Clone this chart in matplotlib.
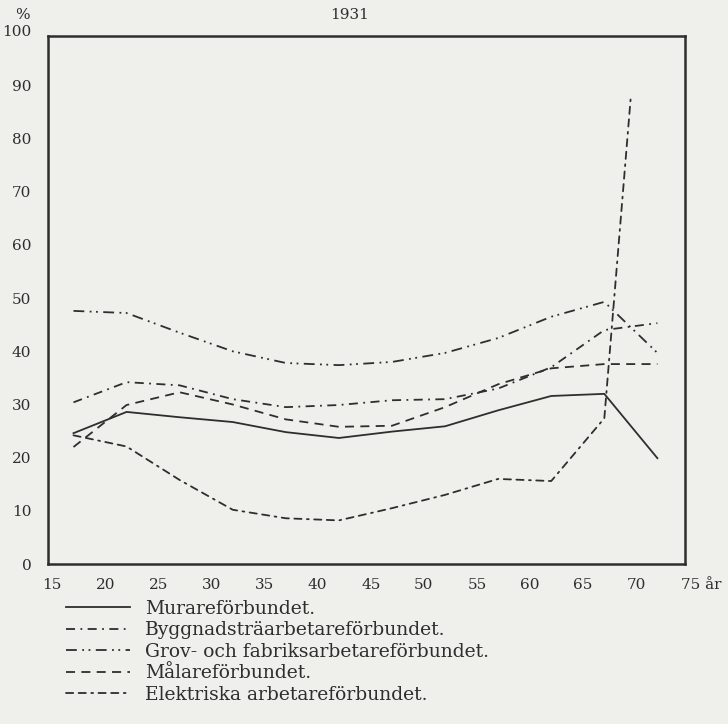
import numpy as np
import matplotlib
matplotlib.use('Agg')
import matplotlib.pyplot as plt

plt.rcParams['font.family'] = ['DejaVu Serif']

# ages (mid-points of the 5-year groups)
ages = [17, 22, 27, 32, 37, 42, 47, 52, 57, 62, 67, 72]
ages_el = [17, 22, 27, 32, 37, 42, 47, 52, 57, 62, 67, 69.5]

murare = [24.6, 28.6, 27.6, 26.7, 24.8, 23.7, 24.9, 25.9, 28.9, 31.6, 32.0, 19.9]
bygg = [30.4, 34.2, 33.6, 31.0, 29.5, 29.9, 30.8, 31.0, 33.0, 37.0, 44.0, 45.3]
grov = [47.6, 47.2, 43.5, 40.0, 37.8, 37.4, 38.0, 39.7, 42.5, 46.5, 49.3, 39.7]
malare = [22.0, 29.9, 32.3, 30.0, 27.2, 25.8, 26.0, 29.5, 33.8, 36.8, 37.6, 37.6]
elektr = [24.2, 22.1, 15.8, 10.2, 8.6, 8.2, 10.5, 13.0, 16.0, 15.6, 27.4, 88.0]

labels = ['Murareförbundet.', 'Byggnadsträarbetareförbundet.',
          'Grov- och fabriksarbetareförbundet.', 'Målareförbundet.',
          'Elektriska arbetareförbundet.']

xticks = [15, 20, 25, 30, 35, 40, 45, 50, 55, 60, 65, 70]
yticks = [0, 10, 20, 30, 40, 50, 60, 70, 80, 90]

ink = '#2e2e2e'
paper = '#efefec'

fig = plt.figure(figsize=(7.28, 7.24), dpi=100, facecolor=paper)
ax = fig.add_axes([48/728, 1-564/724, (685-48)/728, (564-36)/724])
ax.set_facecolor(paper)

lw = 1.3
h1, = ax.plot(ages, murare, color=ink, lw=lw, ls='-')
h2, = ax.plot(ages, bygg, color=ink, lw=lw, ls=(0, (5, 3, 1, 3)))
h3, = ax.plot(ages, grov, color=ink, lw=lw, ls=(0, (6, 3, 1, 2.5, 1, 3)))
h4, = ax.plot(ages, malare, color=ink, lw=lw, ls=(0, (5, 3.5)))
h5, = ax.plot(ages_el, elektr, color=ink, lw=lw, ls=(0, (4, 3, 4, 3, 1, 3)),
              dash_capstyle='round')

ax.set_xlim(14.6, 74.6)
ax.set_ylim(0, 99.3)
ax.set_xticks(xticks)
ax.set_yticks(yticks)
ax.tick_params(length=0, labelsize=11, colors=ink)
ax.tick_params(axis='x', pad=10)
ax.tick_params(axis='y', pad=12)
for s in ax.spines.values():
    s.set_linewidth(1.8)
    s.set_color(ink)

ax.annotate('75 år', xy=(75, 0), xycoords=('data', 'axes fraction'),
            xytext=(-6, -10), textcoords='offset points',
            ha='left', va='top', fontsize=11, color=ink,
            annotation_clip=False)
ax.annotate('100', xy=(0, 100), xycoords=('axes fraction', 'data'),
            xytext=(-12, 0), textcoords='offset points',
            ha='right', va='center', fontsize=11, color=ink,
            annotation_clip=False)
fig.text(22/728, 1-15/724, '%', ha='center', va='center', fontsize=11, color=ink)
fig.text(350/728, 1-15/724, '1931', ha='center', va='center', fontsize=11, color=ink)

leg = ax.legend([h1, h2, h3, h4, h5], labels, loc='upper left',
                bbox_to_anchor=(66/728, 1-600/724), bbox_transform=fig.transFigure,
                frameon=False, fontsize=13.5, handlelength=3.4, handletextpad=0.8,
                labelspacing=0.18, borderpad=0, borderaxespad=0)
for t in leg.get_texts():
    t.set_color(ink)

fig.savefig('out.png', dpi=100, facecolor=paper)
